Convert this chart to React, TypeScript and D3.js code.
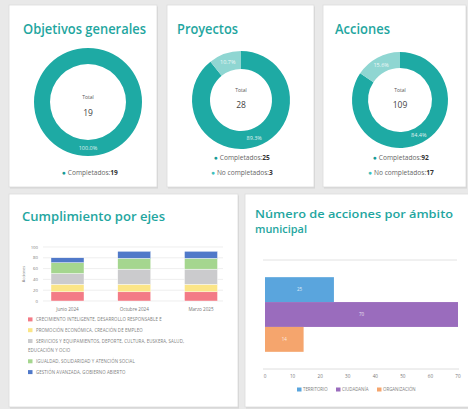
import React from "react";
import * as d3 from "d3";

const W = 468;
const H = 409;

// ---- Donut data ----
const donutTitles = ["Objetivos generales", "Proyectos", "Acciones"];
const completados = [19, 25, 92];
const noCompletados = [0, 3, 17];

// ---- Stacked bars data ----
const periodos = ["Junio 2024", "Octubre 2024", "Marzo 2025"];
const ejes = [
  "CRECIMIENTO INTELIGENTE, DESARROLLO RESPONSABLE E",
  "PROMOCIÓN ECONÓMICA, CREACIÓN DE EMPLEO",
  "SERVICIOS Y EQUIPAMIENTOS, DEPORTE, CULTURA, EUSKERA, SALUD,|EDUCACIÓN Y OCIO",
  "IGUALDAD, SOLIDARIDAD Y ATENCIÓN SOCIAL",
  "GESTIÓN AVANZADA, GOBIERNO ABIERTO",
];
const ejeCrecimiento = [17, 17, 17];
const ejePromocion = [14, 14, 14];
const ejeServicios = [20, 28, 28];
const ejeIgualdad = [20, 20, 20];
const ejeGestion = [9, 13, 13];
const yTicks = [0, 20, 40, 60, 80, 100];

// ---- Horizontal bars data ----
const ambitos = ["TERRITORIO", "CIUDADANÍA", "ORGANIZACIÓN"];
const accionesAmbito = [25, 70, 14];
const xTicks = [0, 10, 20, 30, 40, 50, 60, 70];

// ---- Styles ----
const TEAL = "#1eaaa4";
const TEAL_LIGHT = "#8fd6d2";
const TITLE = "#1fa6a0";
const FONT = "'Open Sans', sans-serif";
const ejeColors = ["#f37b86", "#fbe587", "#cbcbcd", "#a5d68f", "#5079c9"];
const ambitoColors = ["#5aa5dd", "#9a6cbd", "#f5a56d"];

const topCards = [
  { x: 9, y: 5, w: 148, h: 182 },
  { x: 167, y: 5, w: 147, h: 182 },
  { x: 323, y: 5, w: 143, h: 182 },
];
const bottomCards = [
  { x: 9, y: 194, w: 229, h: 213 },
  { x: 245, y: 194, w: 226, h: 213 },
];
const donutGeom = [
  { cx: 88, cy: 102, ro: 54, ri: 38, tx: 23, tw: 123 },
  { cx: 241, cy: 100, ro: 49, ri: 31, tx: 177, tw: 61 },
  { cx: 400, cy: 100, ro: 48, ri: 32, tx: 335, tw: 55 },
];

function Card({ x, y, w, h }: { x: number; y: number; w: number; h: number }) {
  return (
    <g>
      <rect x={x + 1} y={y + 1.5} width={w} height={h} fill="#d6d6d6" />
      <rect x={x} y={y} width={w} height={h} fill="#ffffff" stroke="#dcdcdc" strokeWidth={0.8} />
    </g>
  );
}

function Donut({ i }: { i: number }) {
  const g = donutGeom[i];
  const total = completados[i] + noCompletados[i];
  const values = [completados[i], noCompletados[i]];
  const pie = d3.pie<number>().sort(null).value((d) => d)(values);
  const arc = d3.arc<d3.PieArcDatum<number>>().innerRadius(g.ri).outerRadius(g.ro);
  const labelArc = d3
    .arc<d3.PieArcDatum<number>>()
    .innerRadius((g.ri + g.ro) / 2)
    .outerRadius((g.ri + g.ro) / 2);
  const fmt = d3.format(".1%");
  const colors = [TEAL, TEAL_LIGHT];
  const legendLines = [
    { label: "Completados:", v: completados[i], c: "#159a95" },
    { label: "No completados:", v: noCompletados[i], c: "#3fc0bb" },
  ].filter((d, k) => k === 0 || noCompletados[i] > 0);
  const legendY = legendLines.length === 1 ? [175] : [160, 175];
  return (
    <g>
      <text x={g.tx} y={34} fontFamily={FONT} fontWeight={600} fontSize={13.5} fill={TITLE}
        textLength={g.tw} lengthAdjust="spacingAndGlyphs">
        {donutTitles[i]}
      </text>
      <g transform={`translate(${g.cx},${g.cy})`}>
        {pie.map((p, k) =>
          p.value > 0 ? <path key={k} d={arc(p) || ""} fill={colors[k]} /> : null
        )}
        {pie.map((p, k) => {
          if (p.value <= 0) return null;
          const [lx, ly] = labelArc.centroid(p);
          return (
            <text key={"l" + k} x={lx} y={ly} dy="0.35em" textAnchor="middle" fontFamily={FONT}
              fontSize={5.5} fill="#ffffff" opacity={0.85}>
              {fmt(p.value / total)}
            </text>
          );
        })}
        <text x={0} y={i === 0 ? -3 : -8} textAnchor="middle" fontFamily={FONT} fontSize={5} fill="#555">
          Total
        </text>
        <text x={0} y={i === 0 ? 14 : 8} textAnchor="middle" fontFamily={FONT} fontSize={8.5} fill="#444">
          {total}
        </text>
      </g>
      {legendLines.map((l, k) => (
        <text key={k} x={g.cx + (i === 0 ? 2 : 1)} y={legendY[k]} textAnchor="middle" fontFamily={FONT}
          fontSize={6.6} fill="#666">
          <tspan fill={l.c}>● </tspan>
          <tspan>{l.label}</tspan>
          <tspan fontWeight={700} fill="#333">{l.v}</tspan>
        </text>
      ))}
    </g>
  );
}

function StackedChart() {
  const rows = periodos.map((p, k) => ({
    periodo: p,
    e0: ejeCrecimiento[k],
    e1: ejePromocion[k],
    e2: ejeServicios[k],
    e3: ejeIgualdad[k],
    e4: ejeGestion[k],
  }));
  const keys = ["e0", "e1", "e2", "e3", "e4"];
  const series = d3.stack<any>().keys(keys)(rows);
  const x = d3.scalePoint<string>().domain(periodos).range([67.5, 201]);
  const bw = 33;
  const y = d3.scaleLinear().domain([0, 100]).range([301, 247]);
  const gridX1 = 43;
  const gridX2 = 223;
  const legendRows: { k: number; text: string; y: number; marker: boolean; x: number }[] = [];
  let ly = 321;
  ejes.forEach((t, k) => {
    const parts = t.split("|");
    parts.forEach((p, j) => {
      legendRows.push({ k, text: p, y: ly, marker: j === 0, x: j === 0 ? 36 : 28 });
      ly += j === 0 && parts.length > 1 ? 9.5 : 10.8;
    });
  });
  return (
    <g>
      <text x={22} y={221} fontFamily={FONT} fontWeight={600} fontSize={13} fill={TITLE}
        textLength={143} lengthAdjust="spacingAndGlyphs">
        Cumplimiento por ejes
      </text>
      {yTicks.map((t) => (
        <g key={t}>
          <line x1={gridX1} x2={gridX2} y1={y(t)} y2={y(t)} stroke="#e3e3e3" strokeWidth={0.6} />
          <text x={38} y={y(t)} dy="0.35em" textAnchor="end" fontFamily={FONT} fontSize={4.3} fill="#777">
            {t}
          </text>
        </g>
      ))}
      <text transform={`translate(25,${y(50)}) rotate(-90)`} textAnchor="middle" fontFamily={FONT}
        fontSize={4} fill="#777">
        Acciones
      </text>
      {series.map((s, si) =>
        s.map((d, k) => (
          <rect key={si + "-" + k} x={(x(periodos[k]) as number) - bw / 2} y={y(d[1])} width={bw}
            height={Math.max(0, y(d[0]) - y(d[1]))} fill={ejeColors[si]} stroke="#ffffff" strokeWidth={0.4} />
        ))
      )}
      {periodos.map((p) => (
        <text key={p} x={x(p)} y={311} textAnchor="middle" fontFamily={FONT} fontSize={4.6} fill="#777">
          {p}
        </text>
      ))}
      {legendRows.map((r, n) => (
        <g key={n}>
          {r.marker && <rect x={28} y={r.y - 3.6} width={4.5} height={4} fill={ejeColors[r.k]} />}
          <text x={r.x} y={r.y} fontFamily={FONT} fontSize={4.4} fill="#808080" letterSpacing={0.1}>
            {r.text}
          </text>
        </g>
      ))}
    </g>
  );
}

function HBarChart() {
  const x = d3.scaleLinear().domain([0, 70]).range([265, 458]);
  const y = d3.scaleBand<string>().domain(ambitos).range([260, 369]).paddingInner(0).paddingOuter(0.69);
  const legendX = [297, 336, 377];
  return (
    <g>
      <text x={255} y={218} fontFamily={FONT} fontWeight={600} fontSize={11} fill={TITLE}
        textLength={198} lengthAdjust="spacingAndGlyphs">
        Número de acciones por ámbito
      </text>
      <text x={255} y={233} fontFamily={FONT} fontWeight={600} fontSize={11} fill={TITLE}
        textLength={52} lengthAdjust="spacingAndGlyphs">
        municipal
      </text>
      <line x1={263} x2={457} y1={260} y2={260} stroke="#e2e2e2" strokeWidth={1} />
      <line x1={263} x2={459} y1={369} y2={369} stroke="#d5d5d5" strokeWidth={0.8} />
      {ambitos.map((a, k) => (
        <g key={a}>
          <rect x={x(0)} y={y(a)} width={x(accionesAmbito[k]) - x(0)} height={y.bandwidth()} fill={ambitoColors[k]} />
          <text x={(x(0) + x(accionesAmbito[k])) / 2} y={(y(a) as number) + y.bandwidth() / 2} dy="0.35em"
            textAnchor="middle" fontFamily={FONT} fontSize={4.5} fill="#ffffff" opacity={0.8}>
            {accionesAmbito[k]}
          </text>
        </g>
      ))}
      {xTicks.map((t) => (
        <text key={t} x={x(t)} y={378} textAnchor="middle" fontFamily={FONT} fontSize={4.6} fill="#777">
          {t}
        </text>
      ))}
      {ambitos.map((a, k) => (
        <g key={"lg" + a}>
          <rect x={legendX[k]} y={387.5} width={4.5} height={4} fill={ambitoColors[k]} />
          <text x={legendX[k] + 6} y={391.3} fontFamily={FONT} fontSize={4.4} fill="#808080">
            {a}
          </text>
        </g>
      ))}
    </g>
  );
}

export default function App() {
  return (
    <div style={{ position: "absolute", left: 0, top: 0 }}>
      <svg width={W} height={H} style={{ display: "block" }}>
        <rect width={W} height={H} fill="#e9e9e9" />
        {topCards.map((c, k) => (
          <Card key={"t" + k} {...c} />
        ))}
        {bottomCards.map((c, k) => (
          <Card key={"b" + k} {...c} />
        ))}
        {[0, 1, 2].map((i) => (
          <Donut key={i} i={i} />
        ))}
        <StackedChart />
        <HBarChart />
      </svg>
    </div>
  );
}
